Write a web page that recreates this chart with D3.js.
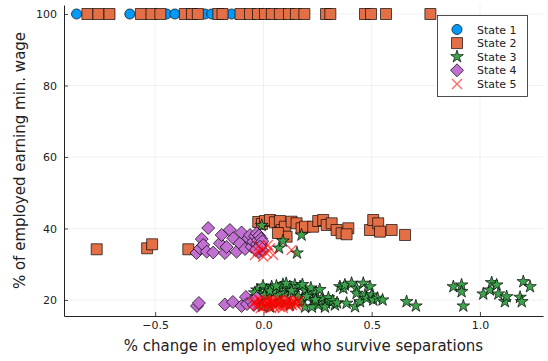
<!DOCTYPE html>
<html>
<head>
<meta charset="utf-8">
<script src="https://cdn.jsdelivr.net/npm/d3@7"></script>
<style>
  html, body { margin: 0; padding: 0; background: #fff; }
  svg { display: block; font-family: "DejaVu Sans", sans-serif; }
</style>
</head>
<body>
<svg id="chart" width="548" height="361"></svg>
<script>
// Employment survival vs. share earning the minimum wage, by state
const seriesNames = ["State 1", "State 2", "State 3", "State 4", "State 5"];

const xTicks = [-0.5, 0.0, 0.5, 1.0];
const xTickLabels = ["\u22120.5", "0.0", "0.5", "1.0"];
const yTicks = [20, 40, 60, 80, 100];
const yTickLabels = ["20", "40", "60", "80", "100"];

// State 1
const state1X = [-0.863, -0.617, -0.447, -0.409, -0.270, -0.239, -0.147];
const state1Y = [100, 100, 100, 100, 100, 100, 100];

// State 2
const state2X = [
  -0.813, -0.762, -0.711, -0.566, -0.517, -0.476, -0.363, -0.330, -0.303, -0.208,
  -0.189, -0.106, -0.062, -0.025, 0.007, 0.039, 0.076, 0.118, 0.150, 0.189,
  0.289, 0.309, 0.469, 0.497, 0.566, 0.771,
  -0.770, -0.537, -0.514, -0.347,
  -0.024, -0.007, 0.007, 0.030, 0.053, 0.076, 0.084, 0.099, 0.107, 0.067,
  0.130, 0.153, 0.176, 0.192, 0.230, 0.253, 0.276, 0.292, 0.315, 0.338,
  0.361, 0.392, 0.384, 0.492, 0.507, 0.530, 0.538, 0.592, 0.654
];
const state2Y = [
  100, 100, 100, 100, 100, 100, 100, 100, 100, 100,
  100, 100, 100, 100, 100, 100, 100, 100, 100, 100,
  100, 100, 100, 100, 100, 100,
  34.18, 34.46, 35.58, 34.18,
  41.82, 41.26, 42.10, 42.38, 41.74, 42.10, 39.58, 40.50, 37.71, 38.74,
  41.90, 41.45, 40.06, 40.50, 40.50, 42.10, 42.38, 40.98, 41.45, 39.58,
  38.66, 40.06, 38.38, 39.58, 42.38, 41.45, 39.11, 39.58, 38.18
];

// State 3
const state3X = [
  -0.008, 0.176, 0.155, 0.072, 0.090,
  -0.047, -0.030, -0.016, -0.002, 0.015, 0.021, 0.038, 0.053, 0.067, 0.076,
  0.090, 0.099, 0.113, 0.122, 0.138, 0.145, 0.161, 0.169, 0.176, 0.192,
  0.207, 0.219, 0.230, 0.242, 0.253, 0.270, 0.289, 0.307, 0.330,
  -0.025, -0.007, 0.030, 0.076, 0.122, 0.192, 0.224, 0.284,
  -0.040, 0.005, 0.030, 0.060, 0.105, 0.130, 0.180, 0.200, 0.240, 0.260,
  0.300, 0.320, 0.340,
  0.353, 0.369, 0.376, 0.384, 0.407, 0.423, 0.430, 0.430, 0.446, 0.461,
  0.469, 0.477, 0.492, 0.500, 0.507, 0.527, 0.550,
  0.661, 0.704, 0.877, 0.915, 0.915, 0.923, 1.015, 1.046, 1.054, 1.077,
  1.085, 1.115, 1.123, 1.185, 1.193, 1.200, 1.231
];
const state3Y = [
  40.84, 38.18, 33.15, 34.55, 36.50,
  20.92, 22.80, 21.87, 23.92, 22.80, 21.40, 23.72, 22.32, 21.12, 23.27,
  24.34, 21.87, 23.08, 23.72, 21.87, 24.20, 20.92, 23.72, 19.53, 22.80,
  21.40, 23.36, 20.00, 21.96, 18.60, 20.56, 19.16, 19.53, 18.60,
  19.16, 18.32, 18.04, 19.44, 18.60, 18.04, 18.04, 18.04,
  22.00, 21.30, 22.50, 23.90, 24.60, 22.60, 24.30, 21.00, 20.10, 22.90,
  20.60, 19.80, 19.20,
  23.72, 23.27, 24.20, 19.08, 24.67, 18.13, 23.27, 21.87, 19.53, 24.67,
  21.40, 20.48, 23.72, 21.40, 20.00, 20.48, 20.00,
  19.53, 18.32, 23.72, 24.20, 22.32, 18.32, 21.68, 22.80, 24.84, 24.20,
  21.68, 19.53, 20.92, 20.76, 19.53, 25.12, 23.72
];

// State 4
const state4X = [
  -0.309, -0.293, -0.285, -0.278, -0.262, -0.255, -0.232, -0.201, -0.193, -0.178,
  -0.170, -0.155, -0.139, -0.124, -0.109, -0.101, -0.085, -0.070, -0.062, -0.055,
  -0.047, -0.039, -0.031, -0.030, -0.025, -0.021, -0.016, -0.012, -0.007,
  -0.020, -0.010, -0.005, -0.015, -0.035,
  -0.307, -0.298, -0.178, -0.141, -0.101, -0.081, -0.076, -0.055, -0.044, -0.031
];
const state4Y = [
  33.15, 34.41, 37.06, 35.38, 33.51, 40.14, 33.29, 35.86, 38.18, 33.15,
  34.83, 39.58, 37.26, 33.51, 35.86, 38.88, 34.27, 37.26, 38.18, 34.91,
  36.31, 37.90, 38.66, 35.66, 36.78, 33.43, 34.46, 35.66, 33.99,
  38.00, 37.20, 36.40, 34.90, 34.00,
  18.32, 19.16, 18.74, 19.44, 18.32, 20.84, 18.88, 19.58, 18.60, 20.56
];

// State 5
const state5X = [
  -0.039, -0.025, -0.008, -0.001, 0.015, 0.030, 0.045, 0.021, -0.021, 0.130,
  -0.048, -0.035, -0.025, -0.016, -0.007, 0.002, 0.012, 0.021, 0.030, 0.039,
  0.048, 0.058, 0.067, 0.076, 0.085, 0.095, 0.104, 0.113, 0.122, 0.132,
  0.141, 0.150, 0.159, -0.012, 0.035, 0.090,
  -0.042, -0.030, -0.020, -0.010, 0.005, 0.008, 0.018, 0.026, 0.034, 0.044,
  0.052, 0.062, 0.071, 0.081, 0.090, 0.100, 0.108, 0.118, 0.127, 0.145,
  0.155, 0.165
];
const state5Y = [
  32.59, 33.71, 33.99, 32.11, 33.06, 34.46, 32.59, 35.38, 35.10, 33.99,
  18.88, 19.72, 18.32, 20.00, 18.88, 18.04, 19.72, 18.60, 20.00, 19.16,
  18.04, 19.72, 18.88, 18.04, 20.00, 18.88, 19.72, 18.32, 19.44, 18.60,
  19.72, 18.88, 19.44, 17.76, 17.76, 17.76,
  19.30, 18.50, 19.90, 19.30, 18.60, 19.90, 19.20, 18.30, 19.60, 18.80,
  19.40, 18.40, 19.90, 19.20, 18.40, 19.30, 18.90, 19.90, 19.00, 19.20,
  18.30, 19.80
];

const seriesX = [state1X, state2X, state3X, state4X, state5X];
const seriesY = [state1Y, state2Y, state3Y, state4Y, state5Y];
const colors = ["#009af9", "#e26f46", "#3da44d", "#c271d2", "#ff0000"];
const shapes = ["circle", "square", "star", "diamond", "cross"];

const svg = d3.select("#chart");
const margin = { left: 64, right: 5, top: 5, bottom: 45 };
const W = 548, H = 361;

const x = d3.scaleLinear().domain([-0.921, 1.291]).range([margin.left, W - margin.right]);
const y = d3.scaleLinear().domain([15.52, 102.52]).range([H - margin.bottom, margin.top]);

// Grid
const grid = svg.append("g").attr("stroke", "#000").attr("stroke-opacity", 0.1).attr("stroke-width", 0.6);
xTicks.forEach(t => grid.append("line")
  .attr("x1", x(t)).attr("x2", x(t)).attr("y1", y.range()[0]).attr("y2", y.range()[1]));
yTicks.forEach(t => grid.append("line")
  .attr("x1", x.range()[0]).attr("x2", x.range()[1]).attr("y1", y(t)).attr("y2", y(t)));

// Axes with inward ticks
const xAxis = d3.axisBottom(x).tickValues(xTicks).tickFormat((d, i) => xTickLabels[i])
  .tickSizeInner(-4).tickSizeOuter(0).tickPadding(5);
const yAxis = d3.axisLeft(y).tickValues(yTicks).tickFormat((d, i) => yTickLabels[i])
  .tickSizeInner(-4).tickSizeOuter(0).tickPadding(7);

const gx = svg.append("g").attr("transform", `translate(0,${y.range()[0]})`).call(xAxis);
const gy = svg.append("g").attr("transform", `translate(${x.range()[0]},0)`).call(yAxis);
[gx, gy].forEach(g => {
  g.select(".domain").attr("stroke", "#222").attr("stroke-width", 1);
  g.selectAll(".tick line").attr("stroke", "#222").attr("stroke-width", 0.8);
  g.selectAll(".tick text").attr("fill", "#222").style("font-size", "11px")
    .style("font-family", "DejaVu Sans, sans-serif");
});

// Axis titles
svg.append("text")
  .attr("x", (x.range()[0] + x.range()[1]) / 2).attr("y", 351)
  .attr("text-anchor", "middle").attr("fill", "#222")
  .style("font-size", "15px")
  .text("% change in employed who survive separations");
svg.append("text")
  .attr("transform", `translate(25,${(y.range()[0] + y.range()[1]) / 2}) rotate(-90)`)
  .attr("text-anchor", "middle").attr("fill", "#222")
  .style("font-size", "15px")
  .text("% of employed earning min. wage");

// Marker paths
const markerPath = {
  circle: d3.symbol(d3.symbolCircle, 80)(),
  square: d3.symbol(d3.symbolSquare, 121)(),
  star: d3.symbol(d3.symbolStar, 50)(),
  diamond: d3.symbol(d3.symbolSquare, 84)(),
  cross: "M-5,-5L5,5M-5,5L5,-5"
};

function drawMarker(g, shape, color, cx, cy) {
  const p = g.append("path").attr("d", markerPath[shape])
    .attr("transform", `translate(${cx},${cy})` + (shape === "diamond" ? " rotate(45)" : ""));
  if (shape === "cross") {
    p.attr("fill", "none").attr("stroke", color).attr("stroke-opacity", 0.6).attr("stroke-width", 1.4);
  } else {
    p.attr("fill", color).attr("stroke", "#000").attr("stroke-opacity", 0.75).attr("stroke-width", 0.9);
  }
}

const plot = svg.append("g");
seriesNames.forEach((name, s) => {
  const g = plot.append("g").attr("class", "series");
  seriesX[s].forEach((xv, i) => drawMarker(g, shapes[s], colors[s], x(xv), y(seriesY[s][i])));
});

// Legend
const lg = svg.append("g");
lg.append("rect").attr("x", 437.5).attr("y", 15.5).attr("width", 90).attr("height", 81)
  .attr("fill", "#fff").attr("stroke", "#222").attr("stroke-width", 0.8);
seriesNames.forEach((name, s) => {
  const cy = 29.5 + s * 13.6;
  drawMarker(lg, shapes[s], colors[s], 457, cy);
  lg.append("text").attr("x", 477).attr("y", cy + 4).attr("fill", "#222")
    .style("font-size", "11px").text(name);
});
</script>
</body>
</html>
